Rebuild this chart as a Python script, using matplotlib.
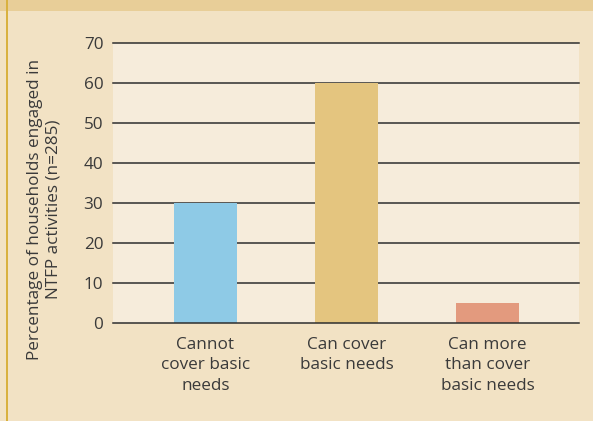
import matplotlib
matplotlib.use("Agg")
from matplotlib import pyplot as plt
from matplotlib.patches import Rectangle

categories = ["Cannot\ncover basic\nneeds", "Can cover\nbasic needs", "Can more\nthan cover\nbasic needs"]
values = [30, 60, 5]
bar_colors = ["#8ECAE6", "#E4C57F", "#E39A7E"]
yticks = [0, 10, 20, 30, 40, 50, 60, 70]

plt.rcParams["font.family"] = ["Open Sans", "DejaVu Sans"]
text_color = "#3a3a3a"
fs = 12.3

fig = plt.figure(figsize=(5.93, 4.21), dpi=100)
fig.patch.set_facecolor("#F2E2C4")

# top band and left border
fig.add_artist(Rectangle((0, 1 - 11 / 421), 1, 11 / 421, transform=fig.transFigure,
                         facecolor="#E8CE98", edgecolor="none"))
fig.add_artist(Rectangle((6 / 593, 0), 2 / 593, 1, transform=fig.transFigure,
                         facecolor="#D9B13F", edgecolor="none"))

ax = fig.add_axes([113 / 593, 1 - 323 / 421, 466 / 593, 280 / 421])
ax.set_facecolor("#F6ECDB")

x = list(range(len(values)))
ax.bar(x, values, width=0.45, color=bar_colors, zorder=3)

ax.set_ylim(0, 70)
ax.set_xlim(-0.656, 2.649)
ax.set_yticks(yticks)
for t in yticks:
    # baseline sits on top of the bars, the rest behind
    ax.axhline(t, color="#2e2e2e", linewidth=1.1, zorder=4 if t == 0 else 2, clip_on=False)

for s in ax.spines.values():
    s.set_visible(False)

ax.tick_params(axis="y", length=0, pad=7, labelsize=fs, labelcolor=text_color)
ax.tick_params(axis="x", length=0, pad=10, labelsize=fs, labelcolor=text_color)
ax.set_xticks(x)
ax.set_xticklabels(categories, linespacing=1.38)

ax.set_ylabel("Percentage of households engaged in\nNTFP activities (n=285)",
              fontsize=fs, color=text_color, linespacing=1.25)
ax.yaxis.set_label_coords(-0.11, 0.407)

plt.savefig("out.png", dpi=100, facecolor=fig.get_facecolor())
